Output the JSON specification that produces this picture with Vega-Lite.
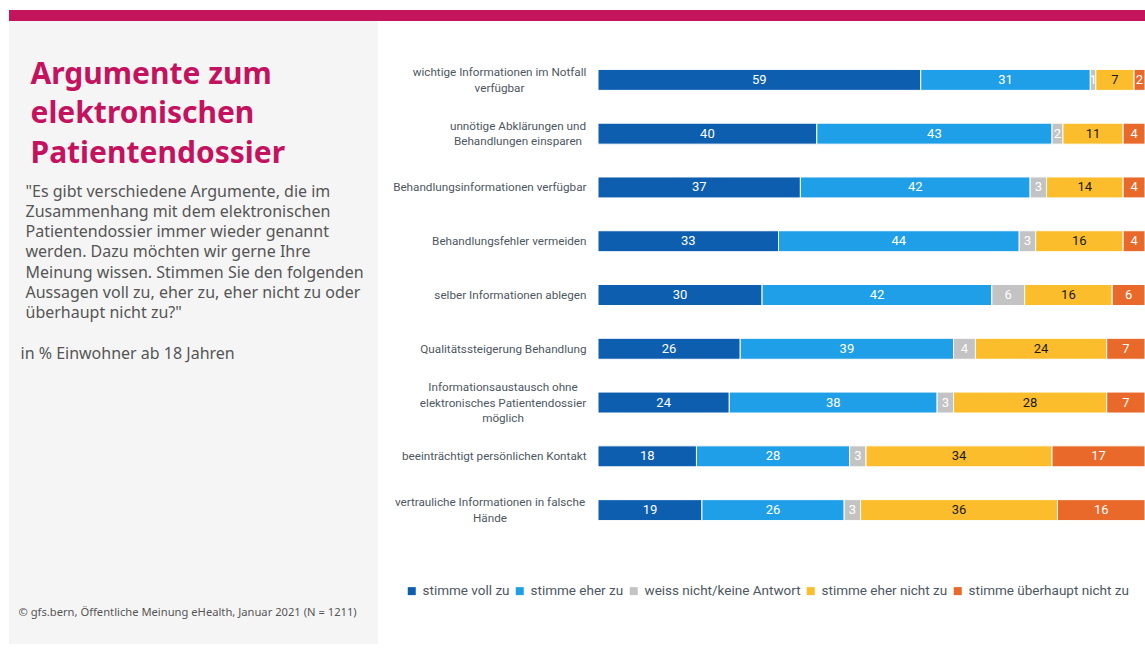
{
  "$schema": "https://vega.github.io/schema/vega-lite/v6.json",
  "background": "white",
  "padding": {"left": 9, "top": 9, "right": 0, "bottom": 0},
  "spacing": 0,
  "config": {"view": {"stroke": null}, "font": "Noto Sans"},
  "vconcat": [
    {
      "width": 1136,
      "height": 11,
      "view": {"fill": "#C4145C", "stroke": null},
      "data": {"values": [{}]},
      "mark": {"type": "text"},
      "encoding": {"text": {"value": ""}}
    },
    {
      "spacing": 10,
      "resolve": {"scale": {"color": "independent"}, "legend": {"color": "independent"}},
      "hconcat": [
        {
          "width": 369,
          "height": 623,
          "view": {"fill": "#F5F5F5", "stroke": null},
          "data": {"values": [{"k": 0}]},
          "layer": [
            {
              "mark": {"type": "text"},
              "encoding": {
                "text": {"value": ""},
                "x": {
                  "field": "k", "type": "quantitative", "scale": {"domain": [0, 1]},
                  "axis": {
                    "orient": "bottom", "labels": false, "ticks": false, "domain": false, "grid": false,
                    "minExtent": 0, "maxExtent": 0,
                    "title": "© gfs.bern, Öffentliche Meinung eHealth, Januar 2021 (N = 1211)",
                    "titleX": 9, "titleY": -29, "titleAlign": "left", "titleBaseline": "alphabetic",
                    "titleFont": "Noto Sans", "titleFontSize": 11.2, "titleFontWeight": "normal", "titleColor": "#555555"
                  }
                },
                "y": {
                  "field": "k", "type": "quantitative", "scale": {"domain": [0, 1]},
                  "axis": {
                    "orient": "left", "labels": false, "ticks": false, "domain": false, "grid": false,
                    "minExtent": 0, "maxExtent": 0,
                    "title": [
                      "\"Es gibt verschiedene Argumente, die im",
                      "Zusammenhang mit dem elektronischen",
                      "Patientendossier immer wieder genannt",
                      "werden. Dazu möchten wir gerne Ihre",
                      "Meinung wissen. Stimmen Sie den folgenden",
                      "Aussagen voll zu, eher zu, eher nicht zu oder",
                      "überhaupt nicht zu?\""
                    ],
                    "titleAngle": 0, "titleX": 16, "titleY": 175, "titleAlign": "left", "titleBaseline": "alphabetic",
                    "titleLineHeight": 20.3, "titleFont": "Noto Sans", "titleFontSize": 16, "titleFontWeight": "normal", "titleColor": "#555555"
                  }
                }
              }
            },
            {
              "mark": {"type": "text"},
              "encoding": {
                "text": {"value": ""},
                "x": {
                  "field": "k", "type": "quantitative", "scale": {"domain": [0, 1]},
                  "axis": {
                    "orient": "top", "labels": false, "ticks": false, "domain": false, "grid": false,
                    "minExtent": 0, "maxExtent": 0,
                    "title": "in % Einwohner ab 18 Jahren",
                    "titleX": 11, "titleY": 337, "titleAlign": "left", "titleBaseline": "alphabetic",
                    "titleFont": "Noto Sans", "titleFontSize": 16, "titleFontWeight": "normal", "titleColor": "#555555"
                  }
                },
                "y": {
                  "field": "k", "type": "quantitative", "scale": {"domain": [0, 1]},
                  "axis": {
                    "orient": "right", "labels": false, "ticks": false, "domain": false, "grid": false,
                    "minExtent": 0, "maxExtent": 0,
                    "title": ["Argumente zum", "elektronischen", "Patientendossier"],
                    "titleAngle": 0, "titleX": -348, "titleY": 62, "titleAlign": "left", "titleBaseline": "alphabetic",
                    "titleLineHeight": 39.5, "titleFont": "Noto Sans", "titleFontSize": 30, "titleFontWeight": "bold", "titleColor": "#C4135E"
                  }
                }
              }
            }
          ],
          "resolve": {"scale": {"x": "independent", "y": "independent"}, "axis": {"x": "independent", "y": "independent"}}
        },
        {
          "width": 547,
          "height": 548,
          "data": {
            "values": [
              {"arg": "wichtige Informationen im Notfall verfügbar", "response": "stimme voll zu", "level": 1, "pct": 59},
              {"arg": "wichtige Informationen im Notfall verfügbar", "response": "stimme eher zu", "level": 2, "pct": 31},
              {"arg": "wichtige Informationen im Notfall verfügbar", "response": "weiss nicht/keine Antwort", "level": 3, "pct": 1},
              {"arg": "wichtige Informationen im Notfall verfügbar", "response": "stimme eher nicht zu", "level": 4, "pct": 7},
              {"arg": "wichtige Informationen im Notfall verfügbar", "response": "stimme überhaupt nicht zu", "level": 5, "pct": 2},
              {"arg": "unnötige Abklärungen und Behandlungen einsparen", "response": "stimme voll zu", "level": 1, "pct": 40},
              {"arg": "unnötige Abklärungen und Behandlungen einsparen", "response": "stimme eher zu", "level": 2, "pct": 43},
              {"arg": "unnötige Abklärungen und Behandlungen einsparen", "response": "weiss nicht/keine Antwort", "level": 3, "pct": 2},
              {"arg": "unnötige Abklärungen und Behandlungen einsparen", "response": "stimme eher nicht zu", "level": 4, "pct": 11},
              {"arg": "unnötige Abklärungen und Behandlungen einsparen", "response": "stimme überhaupt nicht zu", "level": 5, "pct": 4},
              {"arg": "Behandlungsinformationen verfügbar", "response": "stimme voll zu", "level": 1, "pct": 37},
              {"arg": "Behandlungsinformationen verfügbar", "response": "stimme eher zu", "level": 2, "pct": 42},
              {"arg": "Behandlungsinformationen verfügbar", "response": "weiss nicht/keine Antwort", "level": 3, "pct": 3},
              {"arg": "Behandlungsinformationen verfügbar", "response": "stimme eher nicht zu", "level": 4, "pct": 14},
              {"arg": "Behandlungsinformationen verfügbar", "response": "stimme überhaupt nicht zu", "level": 5, "pct": 4},
              {"arg": "Behandlungsfehler vermeiden", "response": "stimme voll zu", "level": 1, "pct": 33},
              {"arg": "Behandlungsfehler vermeiden", "response": "stimme eher zu", "level": 2, "pct": 44},
              {"arg": "Behandlungsfehler vermeiden", "response": "weiss nicht/keine Antwort", "level": 3, "pct": 3},
              {"arg": "Behandlungsfehler vermeiden", "response": "stimme eher nicht zu", "level": 4, "pct": 16},
              {"arg": "Behandlungsfehler vermeiden", "response": "stimme überhaupt nicht zu", "level": 5, "pct": 4},
              {"arg": "selber Informationen ablegen", "response": "stimme voll zu", "level": 1, "pct": 30},
              {"arg": "selber Informationen ablegen", "response": "stimme eher zu", "level": 2, "pct": 42},
              {"arg": "selber Informationen ablegen", "response": "weiss nicht/keine Antwort", "level": 3, "pct": 6},
              {"arg": "selber Informationen ablegen", "response": "stimme eher nicht zu", "level": 4, "pct": 16},
              {"arg": "selber Informationen ablegen", "response": "stimme überhaupt nicht zu", "level": 5, "pct": 6},
              {"arg": "Qualitätssteigerung Behandlung", "response": "stimme voll zu", "level": 1, "pct": 26},
              {"arg": "Qualitätssteigerung Behandlung", "response": "stimme eher zu", "level": 2, "pct": 39},
              {"arg": "Qualitätssteigerung Behandlung", "response": "weiss nicht/keine Antwort", "level": 3, "pct": 4},
              {"arg": "Qualitätssteigerung Behandlung", "response": "stimme eher nicht zu", "level": 4, "pct": 24},
              {"arg": "Qualitätssteigerung Behandlung", "response": "stimme überhaupt nicht zu", "level": 5, "pct": 7},
              {"arg": "Informationsaustausch ohne elektronisches Patientendossier möglich", "response": "stimme voll zu", "level": 1, "pct": 24},
              {"arg": "Informationsaustausch ohne elektronisches Patientendossier möglich", "response": "stimme eher zu", "level": 2, "pct": 38},
              {"arg": "Informationsaustausch ohne elektronisches Patientendossier möglich", "response": "weiss nicht/keine Antwort", "level": 3, "pct": 3},
              {"arg": "Informationsaustausch ohne elektronisches Patientendossier möglich", "response": "stimme eher nicht zu", "level": 4, "pct": 28},
              {"arg": "Informationsaustausch ohne elektronisches Patientendossier möglich", "response": "stimme überhaupt nicht zu", "level": 5, "pct": 7},
              {"arg": "beeinträchtigt persönlichen Kontakt", "response": "stimme voll zu", "level": 1, "pct": 18},
              {"arg": "beeinträchtigt persönlichen Kontakt", "response": "stimme eher zu", "level": 2, "pct": 28},
              {"arg": "beeinträchtigt persönlichen Kontakt", "response": "weiss nicht/keine Antwort", "level": 3, "pct": 3},
              {"arg": "beeinträchtigt persönlichen Kontakt", "response": "stimme eher nicht zu", "level": 4, "pct": 34},
              {"arg": "beeinträchtigt persönlichen Kontakt", "response": "stimme überhaupt nicht zu", "level": 5, "pct": 17},
              {"arg": "vertrauliche Informationen in falsche Hände", "response": "stimme voll zu", "level": 1, "pct": 19},
              {"arg": "vertrauliche Informationen in falsche Hände", "response": "stimme eher zu", "level": 2, "pct": 26},
              {"arg": "vertrauliche Informationen in falsche Hände", "response": "weiss nicht/keine Antwort", "level": 3, "pct": 3},
              {"arg": "vertrauliche Informationen in falsche Hände", "response": "stimme eher nicht zu", "level": 4, "pct": 36},
              {"arg": "vertrauliche Informationen in falsche Hände", "response": "stimme überhaupt nicht zu", "level": 5, "pct": 16}
            ]
          },
          "encoding": {
            "y": {
              "field": "arg", "type": "nominal", "sort": null,
              "scale": {"paddingInner": 0.61, "paddingOuter": 0.9},
              "axis": {
                "title": null, "ticks": false, "domain": false, "grid": false,
                "labelAlign": {
                  "condition": {"test": "indexof(['wichtige Informationen im Notfall verfügbar', 'unnötige Abklärungen und Behandlungen einsparen', 'Informationsaustausch ohne elektronisches Patientendossier möglich', 'vertrauliche Informationen in falsche Hände'], datum.value) >= 0", "value": "center"},
                  "value": "right"
                },
                "labelPadding": {
                  "condition": [
                    {"test": "datum.value == 'wichtige Informationen im Notfall verfügbar'", "value": 99},
                    {"test": "datum.value == 'unnötige Abklärungen und Behandlungen einsparen'", "value": 80.5},
                    {"test": "datum.value == 'Informationsaustausch ohne elektronisches Patientendossier möglich'", "value": 95.5},
                    {"test": "datum.value == 'vertrauliche Informationen in falsche Hände'", "value": 108.5}
                  ],
                  "value": 12
                },
                "labelOffset": {
                  "condition": [
                    {"test": "datum.value == 'Informationsaustausch ohne elektronisches Patientendossier möglich'", "value": -15.5},
                    {"test": "indexof(['wichtige Informationen im Notfall verfügbar', 'unnötige Abklärungen und Behandlungen einsparen', 'vertrauliche Informationen in falsche Hände'], datum.value) >= 0", "value": -8}
                  ],
                  "value": 0
                },
                "labelBaseline": "middle",
                "labelFont": "Roboto", "labelFontSize": 11.7,
                "labelColor": "#4D5762", "labelLineHeight": 15.7, "labelLimit": 198,
                "minExtent": 210, "maxExtent": 210,
                "labelExpr": "datum.label == 'wichtige Informationen im Notfall verfügbar' ? ['wichtige Informationen im Notfall', 'verfügbar'] : datum.label == 'unnötige Abklärungen und Behandlungen einsparen' ? ['unnötige Abklärungen und', 'Behandlungen einsparen'] : datum.label == 'Informationsaustausch ohne elektronisches Patientendossier möglich' ? ['Informationsaustausch ohne', 'elektronisches Patientendossier', 'möglich'] : datum.label == 'vertrauliche Informationen in falsche Hände' ? ['vertrauliche Informationen in falsche', 'Hände'] : datum.label"
              }
            },
            "x": {"field": "pct", "type": "quantitative", "stack": "zero", "scale": {"domain": [0, 100], "nice": false}, "axis": null},
            "order": {"field": "level", "type": "quantitative", "sort": "ascending"}
          },
          "layer": [
            {
              "mark": {"type": "bar", "stroke": "white", "strokeWidth": 1},
              "encoding": {
                "color": {
                  "field": "response", "type": "nominal",
                  "sort": ["stimme voll zu", "stimme eher zu", "weiss nicht/keine Antwort", "stimme eher nicht zu", "stimme überhaupt nicht zu"],
                  "scale": {
                    "domain": ["stimme voll zu", "stimme eher zu", "weiss nicht/keine Antwort", "stimme eher nicht zu", "stimme überhaupt nicht zu"],
                    "range": ["#0D5EAF", "#1F9FE7", "#C3C3C3", "#FBBD2B", "#E8692A"]
                  },
                  "legend": {
                    "orient": "none", "legendX": -193, "legendY": 563, "direction": "horizontal",
                    "title": null, "symbolType": "square", "symbolSize": 64, "symbolStrokeWidth": 0,
                    "labelFont": "Roboto", "labelFontSize": 13.5,
                    "labelColor": "#4D5762", "labelOffset": 4, "columnPadding": 3, "labelLimit": 300
                  }
                }
              }
            },
            {
              "mark": {"type": "text", "font": "Roboto", "fontSize": 13, "baseline": "middle"},
              "encoding": {
                "x": {"field": "pct", "type": "quantitative", "stack": "zero", "bandPosition": 0.5},
                "text": {"field": "pct", "type": "quantitative"},
                "color": {
                  "field": "response", "type": "nominal",
                  "sort": ["stimme voll zu", "stimme eher zu", "weiss nicht/keine Antwort", "stimme eher nicht zu", "stimme überhaupt nicht zu"],
                  "scale": {
                    "domain": ["stimme voll zu", "stimme eher zu", "weiss nicht/keine Antwort", "stimme eher nicht zu", "stimme überhaupt nicht zu"],
                    "range": ["#FFFFFF", "#FFFFFF", "#FFFFFF", "#1A1A1A", "#FFFFFF"]
                  },
                  "legend": null
                }
              }
            }
          ],
          "resolve": {"scale": {"color": "independent"}}
        }
      ]
    },
    {
      "width": 1136,
      "height": 10,
      "view": {"fill": "#D2D4D2", "stroke": null},
      "data": {"values": [{}]},
      "mark": {"type": "text"},
      "encoding": {"text": {"value": ""}}
    }
  ]
}
